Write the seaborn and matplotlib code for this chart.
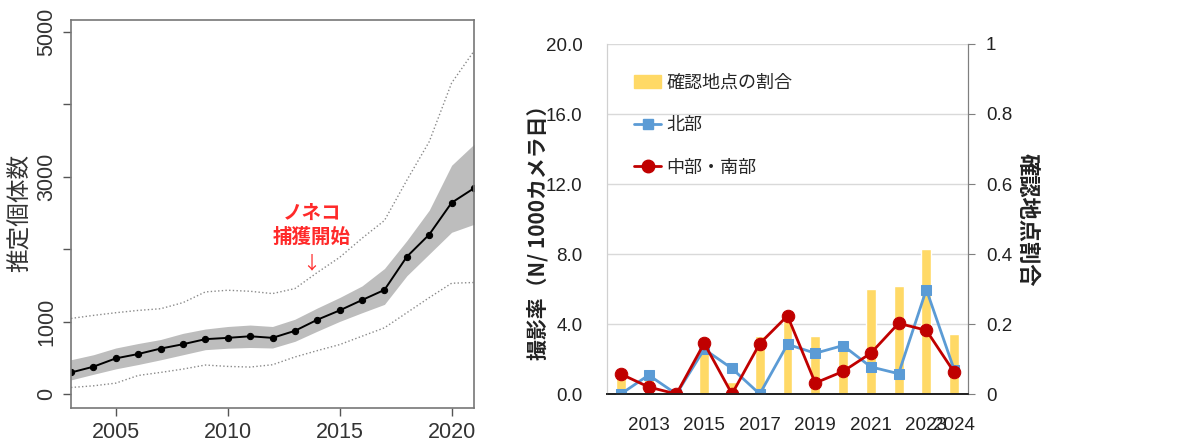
import seaborn as sns
import matplotlib.pyplot as plt
from matplotlib import font_manager
from matplotlib.lines import Line2D
from matplotlib.patches import Patch

# left panel: estimated population
years_est = list(range(2003, 2022))
est_mean = [300, 380, 495, 555, 630, 690, 760, 778, 800, 778, 875, 1028, 1157, 1300, 1440, 1898, 2204, 2643, 2843]
band_hi = [476, 545, 638, 700, 755, 840, 900, 935, 955, 935, 1035, 1190, 1335, 1495, 1735, 2120, 2540, 3160, 3450]
band_lo = [198, 275, 350, 410, 475, 545, 615, 635, 645, 638, 730, 870, 1005, 1125, 1240, 1635, 1935, 2235, 2345]
ci_hi = [1046, 1088, 1125, 1157, 1180, 1264, 1412, 1435, 1421, 1389, 1458, 1680, 1889, 2153, 2398, 2954, 3486, 4296, 4736]
ci_lo = [93, 116, 153, 259, 301, 347, 403, 384, 375, 407, 514, 602, 685, 801, 917, 1125, 1333, 1532, 1542]
est_yticks = [0, 1000, 2000, 3000, 4000, 5000]
est_ylabels = ['0', '1000', '', '3000', '', '5000']
est_xticks = [2005, 2010, 2015, 2020]

# right panel: camera trap results
years_cam = list(range(2012, 2025))
site_ratio = [0.07, 0.07, 0.0, 0.14, 0.033, 0.166, 0.21, 0.166, 0.14, 0.30, 0.31, 0.414, 0.172]
rate_north = [0, 1.08, 0, 2.56, 1.46, 0, 2.84, 2.33, 2.77, 1.55, 1.16, 5.97, 1.4]
rate_south = [1.14, 0.40, 0, 2.90, 0, 2.88, 4.47, 0.63, 1.29, 2.33, 4.04, 3.64, 1.25]
cam_xticks = [2013, 2015, 2017, 2019, 2021, 2023, 2024]
rate_yticks = [0, 4, 8, 12, 16, 20]
ratio_yticks = [0, 0.2, 0.4, 0.6, 0.8, 1.0]
ratio_ylabels = ['0', '0.2', '0.4', '0.6', '0.8', '1']

sns.set_style('white')
names = {f.name for f in font_manager.fontManager.ttflist}
num_font = 'Liberation Sans Narrow' if 'Liberation Sans Narrow' in names else 'Liberation Sans'
plt.rcParams['font.family'] = ['Liberation Sans', 'Noto Sans CJK JP', 'DejaVu Sans']
JP = ['Noto Sans CJK JP', 'DejaVu Sans']
num_size = 13.5

fig = plt.figure(figsize=(11.95, 4.44), dpi=100)

# ---- left panel
ax = fig.add_axes([71 / 1195, 1 - 408 / 444, 403 / 1195, 388 / 444])
ax.fill_between(years_est, band_lo, band_hi, color='#bdbdbd', lw=0)
sns.lineplot(x=years_est, y=ci_hi, color='#8a8a8a', linestyle=':', linewidth=1.0, ax=ax)
sns.lineplot(x=years_est, y=ci_lo, color='#8a8a8a', linestyle=':', linewidth=1.0, ax=ax)
sns.lineplot(x=years_est, y=est_mean, color='black', linewidth=1.4, marker='o',
             markersize=4.5, markeredgecolor='black', ax=ax)
ax.set_xlim(2003, 2021)
ax.set_ylim(-190, 5165)
ax.set_xticks(est_xticks)
ax.set_yticks(est_yticks)
ax.set_yticklabels(est_ylabels, rotation=90, va='center')
ax.tick_params(axis='both', direction='out', length=6, width=1, color='#555555',
               labelsize=15.5, labelcolor='#333333', pad=4, left=True, bottom=True)
for s in ax.spines.values():
    s.set_color('#777777')
    s.set_linewidth(1.2)
ax.set_ylabel('推定個体数', family=JP, fontsize=17, color='#333333', va='center')
ax.yaxis.set_label_coords(-0.125, 0.503)
ax.text(2013.75, 2330, 'ノネコ\n捕獲開始', family=JP, fontsize=14, color='#ff2a2a',
        ha='center', va='center', linespacing=1.35, fontweight='bold')
ax.text(2013.75, 1680, '↓', family=JP, fontsize=13, color='#ff2a2a', ha='center', va='bottom')

# ---- right panel: bars on base axes (right scale), lines on twin (left scale)
axb = fig.add_axes([607 / 1195, 1 - 394 / 444, 361 / 1195, 350 / 444])
axl = axb.twinx()

sns.barplot(x=years_cam, y=site_ratio, native_scale=True, width=0.36, color='#ffd966',
            saturation=1, ax=axb)
sns.lineplot(x=years_cam, y=rate_north, color='#5b9bd5', linewidth=2, marker='s',
             markersize=7, markeredgecolor='#5b9bd5', ax=axl)
sns.lineplot(x=years_cam, y=rate_south, color='#c00000', linewidth=2, marker='o',
             markersize=9, markeredgecolor='#c00000', ax=axl)

for a in (axb, axl):
    a.set_xlim(2011.5, 2024.5)
    a.spines['top'].set_visible(False)
    a.spines['left'].set_color('#d0d0d0')
    a.spines['right'].set_color('#7f7f7f')
    a.spines['bottom'].set_color('#222222')
    a.spines['bottom'].set_linewidth(1.3)

# bar scale on the right
axb.set_ylim(0, 1)
axb.yaxis.tick_right()
axb.set_yticks(ratio_yticks)
axb.set_yticklabels(ratio_ylabels, family=num_font)
axb.grid(axis='y', color='#d9d9d9', linewidth=1)
axb.set_axisbelow(True)
axb.tick_params(axis='y', right=True, left=False, labelright=True, labelleft=False,
                direction='out', length=5, color='#7f7f7f',
                labelsize=num_size, labelcolor='#222222', pad=8)
axb.yaxis.set_label_position('right')
axb.set_ylabel('確認地点割合', family=JP, fontsize=16, fontweight='bold', rotation=-90,
               color='#222222', va='center')
axb.yaxis.set_label_coords(1.163, 0.497)

# rate scale on the left
axl.set_ylim(0, 20)
axl.yaxis.tick_left()
axl.set_yticks(rate_yticks)
axl.set_yticklabels([f'{v:.1f}' for v in rate_yticks], family=num_font)
axl.tick_params(axis='y', left=False, right=False, labelleft=True, labelright=False,
                labelsize=num_size, labelcolor='#222222', pad=14)
axl.yaxis.set_label_position('left')
axl.set_ylabel('撮影率（N/ 1000カメラ日）', family=JP, fontsize=15, fontweight='bold',
               color='#222222', va='center')
axl.yaxis.set_label_coords(-0.191, 0.477)

axb.set_xticks(cam_xticks)
axb.set_xticklabels([str(y) for y in cam_xticks], family=num_font)
axb.tick_params(axis='x', bottom=False, labelsize=num_size, labelcolor='#222222', pad=13)
axl.tick_params(axis='x', bottom=False, labelbottom=False)

handles = [Patch(color='#ffd966'),
           Line2D([], [], color='#5b9bd5', lw=2, marker='s', markersize=7),
           Line2D([], [], color='#c00000', lw=2, marker='o', markersize=9)]
axl.legend(handles, ['確認地点の割合', '北部', '中部・南部'], loc='upper left',
           bbox_to_anchor=(0.055, 0.935), frameon=False, handlelength=1.5,
           handletextpad=0.3, labelspacing=1.35, borderaxespad=0,
           prop={'family': JP, 'size': 13})

fig.savefig('out.png', dpi=100)
